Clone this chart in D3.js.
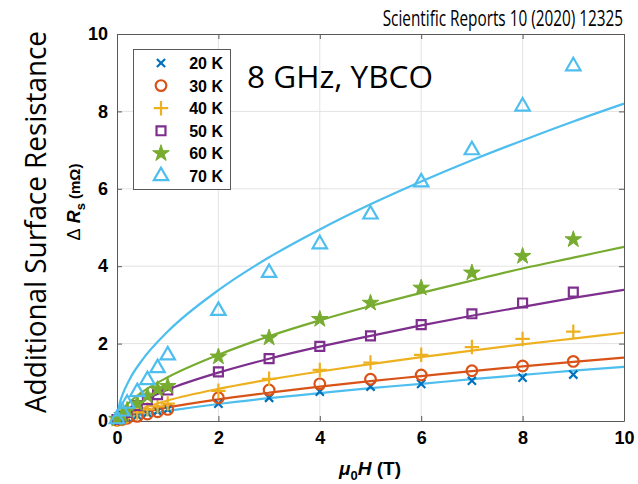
<!DOCTYPE html>
<html>
<head>
<meta charset="utf-8">
<script src="https://cdn.jsdelivr.net/npm/d3@7"></script>
<style>
  body { margin: 0; background: #fff; }
  text { font-family: "Liberation Sans", Arial, sans-serif; }
</style>
</head>
<body>
<div id="main"></div>
<script>
// measured field values (T)
var fields = [0, 0.1, 0.2, 0.4, 0.6, 0.8, 1, 2, 3, 4, 5, 6, 7, 8, 9];

// measured additional surface resistance (mOhm), one array per temperature
var r20 = [0.02, 0.05, 0.08, 0.14, 0.2, 0.25, 0.3, 0.45, 0.6, 0.76, 0.89, 0.96, 1.04, 1.12, 1.2];
var r30 = [0.02, 0.04, 0.07, 0.12, 0.18, 0.24, 0.3, 0.6, 0.8, 0.96, 1.08, 1.19, 1.3, 1.42, 1.54];
var r40 = [0.03, 0.07, 0.12, 0.22, 0.3, 0.38, 0.45, 0.78, 1.09, 1.32, 1.51, 1.71, 1.91, 2.12, 2.31];
var r50 = [0.04, 0.12, 0.22, 0.4, 0.55, 0.68, 0.8, 1.27, 1.61, 1.93, 2.2, 2.49, 2.77, 3.05, 3.33];
var r60 = [0.05, 0.15, 0.28, 0.45, 0.65, 0.82, 0.9, 1.66, 2.15, 2.63, 3.05, 3.44, 3.83, 4.26, 4.69];
var r70 = [0.05, 0.25, 0.45, 0.75, 1.06, 1.37, 1.7, 2.85, 3.83, 4.57, 5.34, 6.17, 7.0, 8.13, 9.17];

var fitFields = [0, 0.05, 0.1, 0.25, 0.5, 1, 2, 3, 4, 5, 6, 7, 8, 9, 10];
var f20 = [0, 0.03, 0.05, 0.1, 0.16, 0.26, 0.44, 0.59, 0.72, 0.85, 0.96, 1.08, 1.19, 1.3, 1.4];
var f30 = [0, 0.05, 0.08, 0.14, 0.22, 0.35, 0.56, 0.73, 0.89, 1.03, 1.16, 1.29, 1.41, 1.53, 1.64];
var f40 = [0, 0.07, 0.12, 0.21, 0.33, 0.53, 0.83, 1.07, 1.28, 1.47, 1.65, 1.82, 1.98, 2.13, 2.28];
var f50 = [0, 0.12, 0.19, 0.34, 0.52, 0.81, 1.25, 1.61, 1.92, 2.2, 2.47, 2.72, 2.95, 3.18, 3.39];
var f60 = [0, 0.19, 0.28, 0.49, 0.75, 1.13, 1.71, 2.19, 2.6, 2.97, 3.31, 3.63, 3.94, 4.22, 4.5];
var f70 = [0, 0.44, 0.65, 1.08, 1.58, 2.31, 3.38, 4.23, 4.95, 5.6, 6.19, 6.74, 7.25, 7.74, 8.2];

var labels = ["20 K", "30 K", "40 K", "50 K", "60 K", "70 K"];
var xTicks = [0, 2, 4, 6, 8, 10];
var yTicks = [0, 2, 4, 6, 8, 10];

var series = [
  { label: labels[0], vals: r20, fit: f20, color: "#0072BD", fitColor: "#4DBEEE", sym: d3.symbolTimes, size: 45, fill: false },
  { label: labels[1], vals: r30, fit: f30, color: "#D95319", fitColor: "#D95319", sym: d3.symbolCircle, size: 90, fill: false },
  { label: labels[2], vals: r40, fit: f40, color: "#EDB120", fitColor: "#EDB120", sym: d3.symbolPlus, size: 70, fill: false },
  { label: labels[3], vals: r50, fit: f50, color: "#7E2F8E", fitColor: "#7E2F8E", sym: d3.symbolSquare, size: 80, fill: false },
  { label: labels[4], vals: r60, fit: f60, color: "#77AC30", fitColor: "#77AC30", sym: d3.symbolStar, size: 85, fill: true },
  { label: labels[5], vals: r70, fit: f70, color: "#4DBEEE", fitColor: "#4DBEEE", sym: d3.symbolTriangle, size: 90, fill: false }
];

var W = 638, H = 484;
var margin = { top: 34, left: 117, right: 14, bottom: 63 };
var w = W - margin.left - margin.right,
    h = H - margin.top - margin.bottom;

var svg = d3.select("#main")
  .append("svg")
  .attr("width", W)
  .attr("height", H);

var x = d3.scaleLinear().domain([0, 10]).range([margin.left, margin.left + w]);
var y = d3.scaleLinear().domain([0, 10]).range([margin.top + h, margin.top]);

// grid
svg.append("g").selectAll("line.gx")
  .data(xTicks.slice(1, -1)).enter().append("line")
  .attr("x1", d => x(d)).attr("x2", d => x(d))
  .attr("y1", y(0)).attr("y2", y(10))
  .attr("stroke", "#e3e3e3").attr("stroke-width", 1);
svg.append("g").selectAll("line.gy")
  .data(yTicks.slice(1, -1)).enter().append("line")
  .attr("x1", x(0)).attr("x2", x(10))
  .attr("y1", d => y(d)).attr("y2", d => y(d))
  .attr("stroke", "#e3e3e3").attr("stroke-width", 1);

// axes, ticks inside on all four sides
var axB = svg.append("g").attr("transform", "translate(0," + y(0) + ")")
  .call(d3.axisBottom(x).tickValues(xTicks).tickSizeInner(-5).tickSizeOuter(0).tickPadding(10));
var axL = svg.append("g").attr("transform", "translate(" + x(0) + ",0)")
  .call(d3.axisLeft(y).tickValues(yTicks).tickSizeInner(-5).tickSizeOuter(0).tickPadding(9));
var axT = svg.append("g").attr("transform", "translate(0," + y(10) + ")")
  .call(d3.axisTop(x).tickValues(xTicks).tickSizeInner(-5).tickSizeOuter(0).tickFormat(""));
var axR = svg.append("g").attr("transform", "translate(" + x(10) + ",0)")
  .call(d3.axisRight(y).tickValues(yTicks).tickSizeInner(-5).tickSizeOuter(0).tickFormat(""));

[axB, axL, axT, axR].forEach(function(a) {
  a.selectAll("path, line").attr("stroke", "#595959").attr("stroke-width", 1);
  a.selectAll("text")
    .attr("fill", "#000")
    .style("font-size", "18px")
    .style("font-weight", "bold");
});

// fits
var line = d3.line()
  .x((d, i) => x(fitFields[i]))
  .y(d => y(d))
  .curve(d3.curveMonotoneX);

var plot = svg.append("g");
series.forEach(function(s) {
  plot.append("path")
    .attr("d", line(s.fit))
    .attr("fill", "none")
    .attr("stroke", s.fitColor)
    .attr("stroke-width", 2.2);
});

// markers
series.forEach(function(s) {
  var g = plot.append("g");
  g.selectAll("path")
    .data(s.vals).enter().append("path")
    .attr("transform", (d, i) => "translate(" + x(fields[i]) + "," + y(d) + ")")
    .attr("d", d3.symbol().type(s.sym).size(s.size))
    .attr("fill", s.fill ? s.color : "none")
    .attr("stroke", s.color)
    .attr("stroke-width", s.fill ? 1 : 2.2);
});

// legend
var lg = svg.append("g");
lg.append("rect")
  .attr("x", 133.5).attr("y", 49.5)
  .attr("width", 97).attr("height", 140)
  .attr("fill", "#fff").attr("stroke", "#595959").attr("stroke-width", 1);
series.forEach(function(s, i) {
  var yy = 63 + i * 22.6;
  lg.append("path")
    .attr("transform", "translate(161," + yy + ")")
    .attr("d", d3.symbol().type(s.sym).size(s.size))
    .attr("fill", s.fill ? s.color : "none")
    .attr("stroke", s.color)
    .attr("stroke-width", s.fill ? 1 : 2.2);
  lg.append("text")
    .attr("x", 223).attr("y", yy + 6)
    .attr("text-anchor", "end")
    .style("font-size", "16px")
    .style("font-weight", "bold")
    .text(s.label);
});

// annotations
svg.append("text")
  .attr("x", 247).attr("y", 88)
  .style("font-family", "'Open Sans', sans-serif")
  .style("font-size", "31px")
  .attr("textLength", 186)
  .attr("lengthAdjust", "spacingAndGlyphs")
  .text("8 GHz, YBCO");

// source note, squeezed horizontally like the narrow original font
svg.append("text")
  .attr("transform", "translate(623,26) scale(0.73,1)")
  .attr("text-anchor", "end")
  .style("font-family", "'Open Sans', sans-serif")
  .style("font-size", "21px")
  .text("Scientific Reports 10 (2020) 12325");

svg.append("text")
  .attr("transform", "translate(46,222) rotate(-90)")
  .attr("text-anchor", "middle")
  .style("font-family", "'Open Sans', sans-serif")
  .style("font-size", "29px")
  .attr("textLength", 382)
  .attr("lengthAdjust", "spacingAndGlyphs")
  .text("Additional Surface Resistance");

var yl = svg.append("text")
  .attr("transform", "translate(80,202) rotate(-90)")
  .attr("text-anchor", "middle")
  .style("font-size", "18px")
  .style("font-weight", "bold");
yl.append("tspan").style("font-weight", "normal").text("\u0394");
yl.append("tspan").style("font-style", "italic").text(" R");
yl.append("tspan").attr("dy", 5).style("font-size", "13px").text("s");
yl.append("tspan").attr("dy", -5).style("font-size", "15px").text(" (m\u03A9)");

var xl = svg.append("text")
  .attr("x", 370).attr("y", 475)
  .attr("text-anchor", "middle")
  .style("font-size", "19px")
  .style("font-weight", "bold");
xl.append("tspan").style("font-style", "italic").text("\u03BC");
xl.append("tspan").attr("dy", 5).style("font-size", "13px").text("0");
xl.append("tspan").attr("dy", -5).style("font-style", "italic").text("H");
xl.append("tspan").text(" (T)");
</script>
</body>
</html>
